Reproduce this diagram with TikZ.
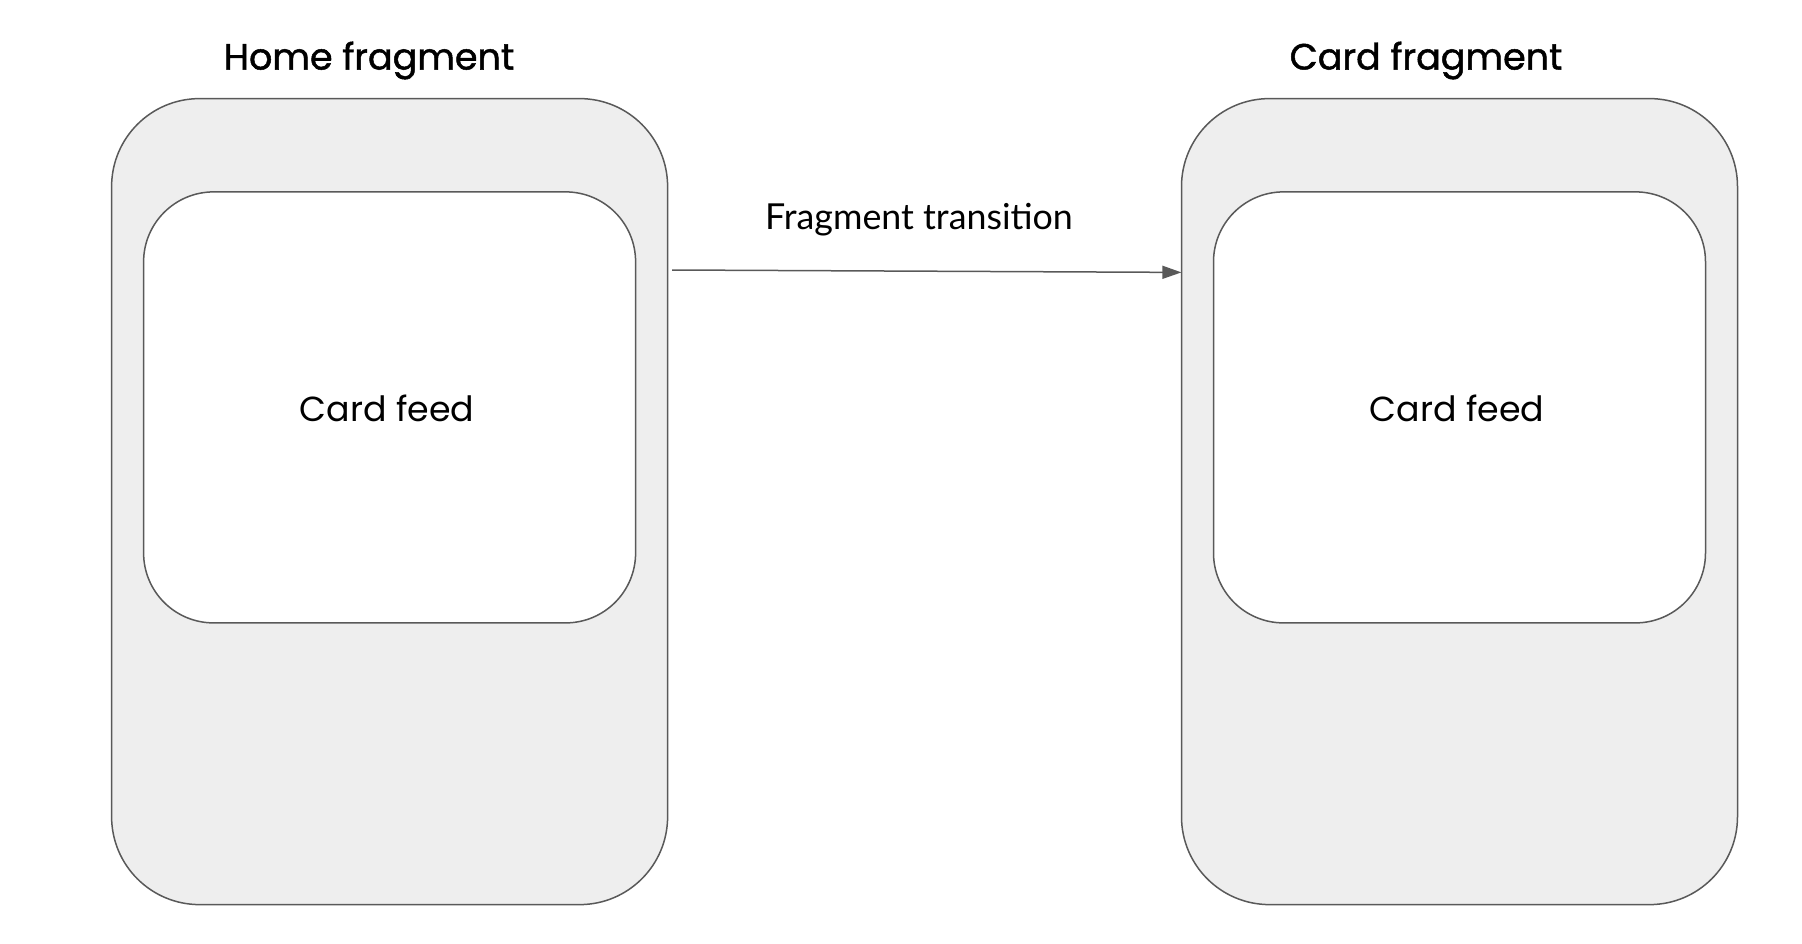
\documentclass[tikz,border=0pt]{standalone}
\usepackage{fontspec}
\setmainfont{Poppins}
\newfontfamily\titlefont[FakeBold=1.3]{Poppins}
\newfontfamily\labelfont{Lato}
\usetikzlibrary{arrows.meta}
\definecolor{boxline}{HTML}{595959}
\definecolor{boxfill}{HTML}{EEEEEE}
\begin{document}
\begin{tikzpicture}[x=1pt,y=-1pt,
  outerbox/.style={draw=boxline, fill=boxfill, line width=1.5pt, rounded corners=88pt,
    minimum width=556pt, minimum height=806pt, inner sep=0pt},
  innerbox/.style={draw=boxline, fill=white, line width=1.5pt, rounded corners=70pt,
    minimum width=492pt, minimum height=431pt, inner sep=0pt},
  title/.style={font=\titlefont\fontsize{36.5}{42}\selectfont, text=black, inner sep=0pt},
  feed/.style={font=\fontsize{34.8}{40}\selectfont, text=black, inner sep=0pt},
  translabel/.style={font=\labelfont\fontsize{35.8}{42}\selectfont, text=black, inner sep=0pt},
  conn/.style={draw=boxline, line width=1.5pt, -{Triangle[length=19pt,width=13pt]}}]
\useasboundingbox (0,0) rectangle (1802,944);
\node[outerbox] (homeouter) at (389.6,501.6) {};
\node[innerbox] (homeinner) at (389.6,407.4) {};
\node[outerbox] (cardouter) at (1459.5,501.6) {};
\node[innerbox] (cardinner) at (1459.5,407.4) {};
\node[title] (hometitle) at (369,60.5) {Home fragment};
\node[title] (cardtitle) at (1426,60.5) {Card fragment};
\node[feed] (homefeed) at (387,408) {Card feed};
\node[feed] (cardfeed) at (1457,408) {Card feed};
\node[translabel] (trans) at (919,219.5) {Fragment transition};
\coordinate (arrstart) at (672,270);
\coordinate (arrend) at (1181.4,272.4);
\draw[conn] (arrstart) -- (arrend);
\end{tikzpicture}
\end{document}
